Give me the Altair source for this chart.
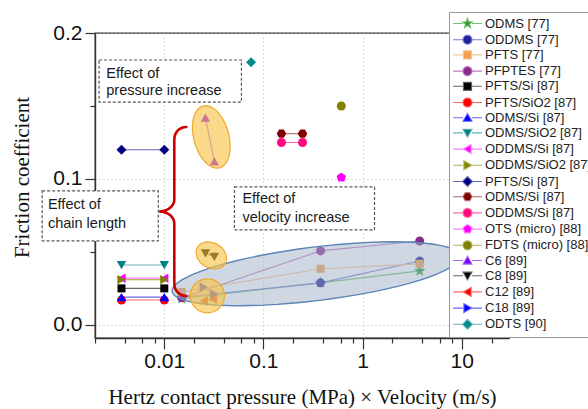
import json
import numpy as np
import pandas as pd
import altair as alt

# ---------------- data ----------------
labels = ["ODMS [77]", "ODDMS [77]", "PFTS [77]", "PFPTES [77]", "PFTS/Si [87]",
          "PFTS/SiO2 [87]", "ODMS/Si [87]", "ODMS/SiO2 [87]", "ODDMS/Si [87]",
          "ODDMS/SiO2 [87]", "PFTS/Si [87]", "ODMS/Si [87]", "ODDMS/Si [87]",
          "OTS (micro) [88]", "FDTS (micro) [88]", "C6 [89]", "C8 [89]", "C12 [89]",
          "C18 [89]", "ODTS [90]"]
marker_colors = ["#2e9a2e", "#23239a", "#f0a050", "#8b2b8b", "#000000", "#ff0000",
                 "#0000ff", "#008080", "#ff00ff", "#808000", "#000080", "#800000",
                 "#ff0a80", "#ff00ff", "#808000", "#8000ff", "#000000", "#ff0000",
                 "#0000ff", "#008b8b"]
line_colors = ["#70c070", "#7a7ad6", "#f7c590", "#c07ac0", "#666666", "#ff6666",
               "#6666ff", "#66b3b3", "#ff80ff", "#b3b35a", "#6666b3", "#b36666",
               "#ff6aa8", "#ff80ff", "#b3b35a", "#aa66ff", "#666666", "#ff6666",
               "#6666ff", "#5fb3b3"]
marker_shapes = ["star", "circle", "square", "circle", "square", "circle",
                 "triangle-up", "triangle-down", "triangle-left", "triangle-right",
                 "diamond", "hexagon", "circle", "pentagon", "circle",
                 "triangle-up", "triangle-down", "triangle-left", "triangle-right",
                 "diamond"]
x_values = [
    [0.015, 0.377, 3.77],
    [0.015, 0.377, 3.77],
    [0.015, 0.377, 3.77],
    [0.015, 0.377, 3.77],
    [0.0037, 0.01],
    [0.0037, 0.01],
    [0.0037, 0.01],
    [0.0037, 0.01],
    [0.0037, 0.01],
    [0.0037, 0.01],
    [0.0037, 0.01],
    [0.152, 0.248],
    [0.152, 0.248],
    [0.61],
    [0.61],
    [0.026, 0.032],
    [0.026, 0.032],
    [0.025, 0.031],
    [0.025, 0.032],
    [0.075],
]
y_values = [
    [0.018, 0.0288, 0.037],
    [0.019, 0.0288, 0.0438],
    [0.0226, 0.0384, 0.0418],
    [0.0185, 0.0507, 0.0575],
    [0.025, 0.025],
    [0.017, 0.017],
    [0.019, 0.019],
    [0.041, 0.041],
    [0.032, 0.032],
    [0.031, 0.031],
    [0.12, 0.12],
    [0.131, 0.131],
    [0.125, 0.125],
    [0.101],
    [0.150],
    [0.142, 0.112],
    [0.049, 0.0466],
    [0.0164, 0.0178],
    [0.026, 0.0212],
    [0.180],
]

# annotations (data coordinates)
box_x1 = [0.0022, 0.000586, 0.051]
box_x2 = [0.060, 0.0087, 1.32]
box_y1 = [0.1815, 0.0918, 0.0945]
box_y2 = [0.1527, 0.0575, 0.0651]
note_text = ["Effect of", "pressure increase", "Effect of", "chain length",
             "Effect of", "velocity increase"]
note_x = [0.0026, 0.0026, 0.00067, 0.00067, 0.0614, 0.0614]
note_y = [0.1719, 0.1603, 0.0822, 0.0692, 0.0863, 0.0733]

yellow_x = [0.0298, 0.0298, 0.0272]
yellow_y = [0.1288, 0.0476, 0.0199]
blue_x = [0.339]
blue_y = [0.035]
brace_x = [0.01262]
brace_y = [0.0777]

x_major = [0.01, 0.1, 1, 10]
x_minor = [k * 10.0 ** e for e in range(-3, 2) for k in (2, 4, 6, 8)]
x_ticks = sorted(set([round(v, 6) for v in x_major + x_minor if 0.002 <= v <= 30]))
y_ticks = [0.0, 0.05, 0.1, 0.15, 0.2]

# ---------------- shape paths ----------------
def to_path(pts, close=True):
    s = "M " + " L ".join(f"{x:.3f} {y:.3f}" for x, y in pts)
    return s + (" Z" if close else "")

def regular(n, r=1.0, inner=None, start=-90.0):
    pts = []
    if inner is None:
        for i in range(n):
            a = np.radians(start + 360.0 * i / n)
            pts.append((r * np.cos(a), r * np.sin(a)))
    else:
        for i in range(2 * n):
            rr = r if i % 2 == 0 else inner
            a = np.radians(start + 180.0 * i / n)
            pts.append((rr * np.cos(a), rr * np.sin(a)))
    return pts

def ellipse_path(ratio, n=48):
    t = np.linspace(0, 2 * np.pi, n, endpoint=False)
    return to_path(list(zip(np.cos(t), ratio * np.sin(t))))

custom = {
    "star": to_path(regular(5, 1.15, 0.48)),
    "hexagon": to_path(regular(6, 1.0, start=0)),
    "pentagon": to_path(regular(5, 1.05)),
}
legend_marker = {
    "circle": to_path(regular(24, 1.0)),
    "square": "M -0.9 -0.9 L 0.9 -0.9 L 0.9 0.9 L -0.9 0.9 Z",
    "triangle-up": "M 0 -0.95 L -1 0.8 L 1 0.8 Z",
    "triangle-down": "M 0 0.95 L -1 -0.8 L 1 -0.8 Z",
    "triangle-left": "M -0.95 0 L 0.8 -1 L 0.8 1 Z",
    "triangle-right": "M 0.95 0 L -0.8 -1 L -0.8 1 Z",
    "diamond": "M -1.1 0 L 0 -1.1 L 1.1 0 L 0 1.1 Z",
}
legend_marker.update(custom)
legend_line = " M -3.2 0 L -1.0 0 M 1.0 0 L 3.2 0"
legend_paths = [legend_marker[s] + legend_line for s in marker_shapes]
marker_size = {"circle": 81, "square": 64, "diamond": 100, "star": 110}

# ---------------- tables ----------------
keys = [f"{i:02d}" for i in range(len(labels))]
rows = []
for i, (xs, ys) in enumerate(zip(x_values, y_values)):
    for x, y in zip(xs, ys):
        rows.append({"key": keys[i], "x": x, "y": y,
                     "mc": marker_colors[i], "lc": line_colors[i],
                     "shape": marker_shapes[i],
                     "n": len(xs)})
pts = pd.DataFrame(rows)
lines_df = pts[pts["n"] > 1]

yellow_shapes = [ellipse_path(0.55), ellipse_path(0.78), ellipse_path(1.0)]
yellow_sizes = [64 ** 2, 32 ** 2, 34 ** 2]
yellow_angles = [75, 30, 0]
box_df = pd.DataFrame({"x": box_x1, "x2": box_x2, "y": box_y1, "y2": box_y2})
note_df = pd.DataFrame({"x": note_x, "y": note_y, "t": note_text})
legend_df = pd.DataFrame({"key": keys, "x": [1.0] * len(keys), "y": [5.0] * len(keys),
                          "mc": marker_colors, "lc": line_colors})

def brace_path():
    h = 84.5
    r = 12.0
    p = []
    for a in np.linspace(-90, -180, 8):
        p.append((r + r * np.cos(np.radians(a)), -h + r + r * np.sin(np.radians(a))))
    for a in np.linspace(0, 90, 8):
        p.append((-15 + 15 * np.cos(np.radians(a)), -12 + 12 * np.sin(np.radians(a))))
    for a in np.linspace(-90, 0, 8):
        p.append((-15 + 15 * np.cos(np.radians(a)), 12 + 12 * np.sin(np.radians(a))))
    for a in np.linspace(180, 90, 8):
        p.append((r + r * np.cos(np.radians(a)), h - r + r * np.sin(np.radians(a))))
    return to_path([(px / h, py / h) for px, py in p], close=False)

# ---------------- scales / axes ----------------
xscale = alt.Scale(type="log", domain=[0.002, 30])
yscale = alt.Scale(domain=[-0.009, 0.2], nice=False, zero=False)
x_major_test = "indexof([0.01, 0.1, 1, 10], datum.value) >= 0"
y_major_test = "indexof([0, 0.1, 0.2], datum.value) >= 0"
xaxis = alt.Axis(
    values=x_ticks,
    title="Hertz contact pressure (MPa) × Velocity (m/s)",
    labelExpr="datum.value == 0.01 ? '0.01' : datum.value == 0.1 ? '0.1' : datum.value == 1 ? '1' : datum.value == 10 ? '10' : ''",
    tickSize={"condition": {"test": x_major_test, "value": 11}, "value": 5},
    gridOpacity={"condition": {"test": x_major_test, "value": 1}, "value": 0},
    labelOverlap=False, labelFlush=False, labelPadding=1,
    titleY=65, titleBaseline="alphabetic",
)
yaxis = alt.Axis(
    values=y_ticks,
    title="Friction coefficient",
    labelExpr=f"{y_major_test} ? format(datum.value, '.1f') : ''",
    tickSize={"condition": {"test": y_major_test, "value": 10}, "value": 5},
    gridOpacity={"condition": {"test": y_major_test, "value": 1}, "value": 0},
    labelOverlap=False, labelFlush=False, labelPadding=3,
    titleX=-73, titleY=144, titleAngle=270, titleAlign="center", titleBaseline="middle",
)

def X(field="x"):
    return alt.X(f"{field}:Q", scale=xscale, axis=xaxis)

def Y(field="y"):
    return alt.Y(f"{field}:Q", scale=yscale, axis=yaxis)

# ---------------- layers ----------------
layers = []
layers.append(alt.Chart(lines_df).mark_line(strokeWidth=1.1).encode(
    x=X(), y=Y(), detail="key:N", color=alt.Color("lc:N", scale=None)))

for shp in dict.fromkeys(marker_shapes):
    sub = pts[pts["shape"] == shp]
    layers.append(alt.Chart(sub).mark_point(
        filled=True, opacity=1, strokeWidth=0, shape=custom.get(shp, shp),
        size=marker_size.get(shp, 90)
    ).encode(x=X(), y=Y(), color=alt.Color("mc:N", scale=None)))

layers.append(alt.Chart(pd.DataFrame({"x": blue_x, "y": blue_y})).mark_point(
    filled=True, opacity=1, shape=ellipse_path(0.185, 64), size=290 ** 2, angle=353,
    fill="#9fb0c8", fillOpacity=0.5, stroke="#5a85b5", strokeWidth=1.4, strokeOpacity=1
).encode(x=X(), y=Y()))

for i in range(len(yellow_x)):
    layers.append(alt.Chart(pd.DataFrame({"x": [yellow_x[i]], "y": [yellow_y[i]]})).mark_point(
        filled=True, opacity=1, fill="#f7c244", fillOpacity=0.62, stroke="#f0a830",
        strokeWidth=1.2, strokeOpacity=1, shape=yellow_shapes[i], size=yellow_sizes[i],
        angle=yellow_angles[i]
    ).encode(x=X(), y=Y()))

layers.append(alt.Chart(pd.DataFrame({"x": brace_x, "y": brace_y})).mark_point(
    filled=False, opacity=1, shape=brace_path(), size=169 ** 2,
    stroke="#cc0000", strokeWidth=2.6, strokeCap="round"
).encode(x=X(), y=Y()))

layers.append(alt.Chart(box_df).mark_rect(
    fill="white", stroke="#555555", strokeDash=[3, 2], strokeWidth=1.2
).encode(x=X(), x2="x2:Q", y=Y(), y2="y2:Q"))

layers.append(alt.Chart(note_df).mark_text(
    align="left", baseline="middle", font="Liberation Sans", fontSize=14.5, color="#1a1a1a"
).encode(x=X(), y=Y(), text="t:N"))

leg = alt.Legend(
    orient="none", legendX=354, legendY=-21, padding=5, rowPadding=1.2,
    symbolSize=81, symbolOffset=7, labelOffset=11, symbolStrokeWidth=1.1,
    labelFont="Liberation Sans", labelFontSize=13, labelColor="#222222", labelLimit=300,
    strokeColor="#999999", fillColor="white", title=None, symbolOpacity=1,
    labelExpr=json.dumps(labels) + "[toNumber(datum.value)]",
    symbolFillColor=alt.ExprRef(expr=json.dumps(marker_colors) + "[toNumber(datum.value)]"),
    symbolStrokeColor=alt.ExprRef(expr=json.dumps(line_colors) + "[toNumber(datum.value)]"),
)
layers.append(alt.Chart(legend_df).mark_point(
    filled=True, opacity=1, clip=True, strokeWidth=1.1
).encode(
    x=X(), y=Y(),
    fill=alt.Fill("mc:N", scale=None),
    stroke=alt.Stroke("lc:N", scale=None),
    shape=alt.Shape("key:N", scale=alt.Scale(domain=keys, range=legend_paths), legend=leg),
))

chart = alt.layer(*layers).properties(
    width=414, height=305,
    autosize=alt.AutoSizeParams(type="none"),
    padding={"left": 95, "top": 33, "right": 79, "bottom": 71},
    background="white",
).configure_view(
    stroke="#333333", strokeWidth=1.3
).configure_axis(
    labelFont="Liberation Sans", labelFontSize=21, labelColor="#111111",
    titleFont="Liberation Serif", titleFontSize=21, titleFontWeight="normal", titleColor="#111111",
    domainColor="#333333", domainWidth=1.4, tickColor="#333333", tickWidth=1.2,
    gridColor="#b5b5b5", gridDash=[1, 3], gridWidth=1,
)

chart.save("out.html", embed_options={"renderer": "svg", "actions": False})
